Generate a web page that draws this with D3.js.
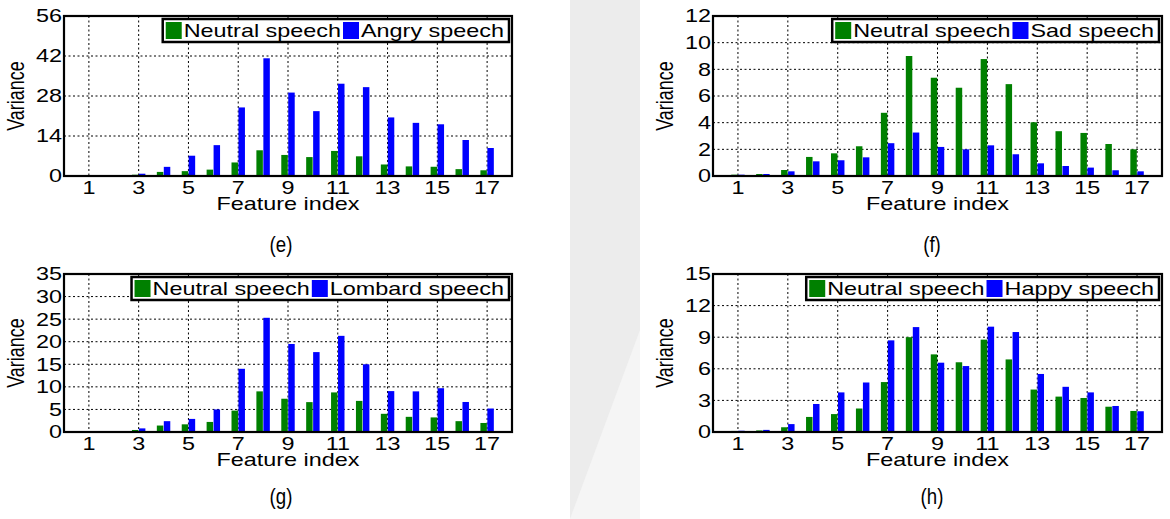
<!DOCTYPE html>
<html lang="en">
<head>
<meta charset="utf-8">
<title>Feature variance</title>
<script src="https://cdn.jsdelivr.net/npm/d3@7"></script>
<style>
  body { margin: 0; background: #fff; }
  text { font-family: "Liberation Sans", Arial, sans-serif; fill: #000; }
</style>
</head>
<body>
<script>
// feature indices on the x axis
var featureIdx = [1, 2, 3, 4, 5, 6, 7, 8, 9, 10, 11, 12, 13, 14, 15, 16, 17]
var xTicks = [1, 3, 5, 7, 9, 11, 13, 15, 17]

// variance per feature
var neutral = [0.1, 0.15, 0.45, 1.43, 1.7, 2.23, 4.74, 9.0, 7.37, 6.62, 8.77, 6.89, 4.03, 3.36, 3.23, 2.4, 2.0]
var angry   = [0.2, 0.2, 0.8, 3.2, 7.1, 10.8, 24.0, 41.2, 29.2, 22.7, 32.3, 31.1, 20.5, 18.6, 18.1, 12.6, 9.8]
var sad     = [0.1, 0.15, 0.35, 1.1, 1.18, 1.4, 2.46, 3.26, 2.18, 2.0, 2.3, 1.63, 0.95, 0.75, 0.63, 0.43, 0.35]
var lombard = [0.2, 0.2, 0.8, 2.4, 2.9, 5.0, 14.0, 25.3, 19.5, 17.7, 21.3, 15.0, 9.06, 9.0, 9.7, 6.65, 5.2]
var happy   = [0.12, 0.2, 0.75, 2.66, 3.76, 4.7, 8.7, 9.96, 6.58, 6.26, 10.0, 9.49, 5.51, 4.29, 3.76, 2.47, 1.97]

var yTicksE = [0, 14, 28, 42, 56]
var yTicksF = [0, 2, 4, 6, 8, 10, 12]
var yTicksG = [0, 5, 10, 15, 20, 25, 30, 35]
var yTicksH = [0, 3, 6, 9, 12, 15]

var captions = ["(e)", "(f)", "(g)", "(h)"]
var otherNames = ["Angry speech", "Sad speech", "Lombard speech", "Happy speech"]

var GREEN = "#008000"
var BLUE = "#0000ff"
var SX = 1.3    // the figure is stretched sideways, so is its text
var FS = "18px"

var panels = [
  { cap: captions[0], name: otherNames[0], vals: angry,   ticks: yTicksE, left: 64,  right: 512,  top: 16,  bottom: 176, capX: 281, capY: 252 },
  { cap: captions[1], name: otherNames[1], vals: sad,     ticks: yTicksF, left: 713, right: 1162, top: 16,  bottom: 176, capX: 932, capY: 252 },
  { cap: captions[2], name: otherNames[2], vals: lombard, ticks: yTicksG, left: 64,  right: 512,  top: 274, bottom: 432, capX: 281, capY: 504 },
  { cap: captions[3], name: otherNames[3], vals: happy,   ticks: yTicksH, left: 713, right: 1162, top: 274, bottom: 432, capX: 932, capY: 504 }
]

var svg = d3.select("body").append("svg")
  .attr("width", 1170)
  .attr("height", 519)

// faint watermark band between the columns
svg.append("rect").attr("x", 570).attr("y", 0).attr("width", 70).attr("height", 519).attr("fill", "#ececec")
svg.append("path").attr("d", "M570,519 L640,330 L640,519 Z").attr("fill", "#f5f5f5")

panels.forEach(drawPanel)

function stretched(sel, x, y, rot) {
  return sel.attr("transform", "translate(" + x + "," + y + ") scale(" + SX + ",1)" + (rot ? " rotate(" + rot + ")" : ""))
}

function drawPanel(p) {
  var g = svg.append("g")
  var x = d3.scaleLinear().domain([0, 18]).range([p.left, p.right])
  var y = d3.scaleLinear().domain([0, d3.max(p.ticks)]).range([p.bottom, p.top])
  var bw = 0.26

  g.append("rect").attr("x", p.left).attr("y", p.top)
    .attr("width", p.right - p.left).attr("height", p.bottom - p.top).attr("fill", "#fff")

  // dotted grid
  g.selectAll("line.vgrid").data(xTicks).enter().append("line")
    .attr("x1", d => x(d)).attr("x2", d => x(d))
    .attr("y1", p.top).attr("y2", p.bottom)
    .attr("stroke", "#000").attr("stroke-width", 1).attr("stroke-dasharray", "2,2.5")
  g.selectAll("line.hgrid").data(p.ticks.slice(1, -1)).enter().append("line")
    .attr("x1", p.left).attr("x2", p.right)
    .attr("y1", d => y(d)).attr("y2", d => y(d))
    .attr("stroke", "#000").attr("stroke-width", 1).attr("stroke-dasharray", "2,2.5")

  // bars: neutral to the left, the other emotion to the right
  g.selectAll("rect.neutral").data(featureIdx).enter().append("rect")
    .attr("x", d => x(d - bw - 0.01)).attr("width", x(bw) - x(0))
    .attr("y", (d, i) => y(neutral[i])).attr("height", (d, i) => y(0) - y(neutral[i]))
    .attr("fill", GREEN)
  g.selectAll("rect.other").data(featureIdx).enter().append("rect")
    .attr("x", d => x(d + 0.01)).attr("width", x(bw) - x(0))
    .attr("y", (d, i) => y(p.vals[i])).attr("height", (d, i) => y(0) - y(p.vals[i]))
    .attr("fill", BLUE)

  // axes box
  g.append("rect")
    .attr("x", p.left).attr("y", p.top)
    .attr("width", p.right - p.left).attr("height", p.bottom - p.top)
    .attr("fill", "none").attr("stroke", "#000").attr("stroke-width", 2.2)

  // tick labels
  g.selectAll("text.ytick").data(p.ticks).enter().append("text")
    .each(function (d) { stretched(d3.select(this), p.left - 2, y(d)) })
    .attr("text-anchor", "end").attr("dy", "0.36em")
    .style("font-size", FS)
    .text(d => d)
  g.selectAll("text.xtick").data(xTicks).enter().append("text")
    .each(function (d) { stretched(d3.select(this), x(d), p.bottom + 18) })
    .attr("text-anchor", "middle")
    .style("font-size", FS)
    .text(d => d)

  stretched(g.append("text"), (p.left + p.right) / 2, p.bottom + 34)
    .attr("text-anchor", "middle").style("font-size", FS)
    .text("Feature index")
  stretched(g.append("text"), p.left - 40, (p.top + p.bottom) / 2, -90)
    .attr("text-anchor", "middle").style("font-size", FS)
    .text("Variance")

  // legend
  var leg = g.append("g")
  var t1 = stretched(leg.append("text"), 0, 0).style("font-size", FS).text("Neutral speech")
  var t2 = stretched(leg.append("text"), 0, 0).style("font-size", FS).text(p.name)
  var w1 = t1.node().getComputedTextLength() * SX
  var w2 = t2.node().getComputedTextLength() * SX
  var sw = 16, legW = 3 + sw + 2 + w1 + 2 + sw + 2 + w2 + 5
  var lx = p.right - 3 - legW, ly = p.top + 3, lh = 23
  leg.insert("rect", "text")
    .attr("x", lx).attr("y", ly).attr("width", legW).attr("height", lh)
    .attr("fill", "#fff").attr("stroke", "#000").attr("stroke-width", 2.5)
  leg.append("rect").attr("x", lx + 3).attr("y", ly + 3).attr("width", sw).attr("height", 17).attr("fill", GREEN)
  stretched(t1, lx + 3 + sw + 2, ly + 18)
  leg.append("rect").attr("x", lx + 3 + sw + 2 + w1 + 2).attr("y", ly + 3).attr("width", sw).attr("height", 17).attr("fill", BLUE)
  stretched(t2, lx + 3 + sw + 2 + w1 + 2 + sw + 2, ly + 18)

  // caption under the panel
  svg.append("text")
    .attr("transform", "translate(" + p.capX + "," + p.capY + ") scale(0.85,1)")
    .attr("text-anchor", "middle").style("font-size", "22px")
    .text(p.cap)
}
</script>
</body>
</html>
